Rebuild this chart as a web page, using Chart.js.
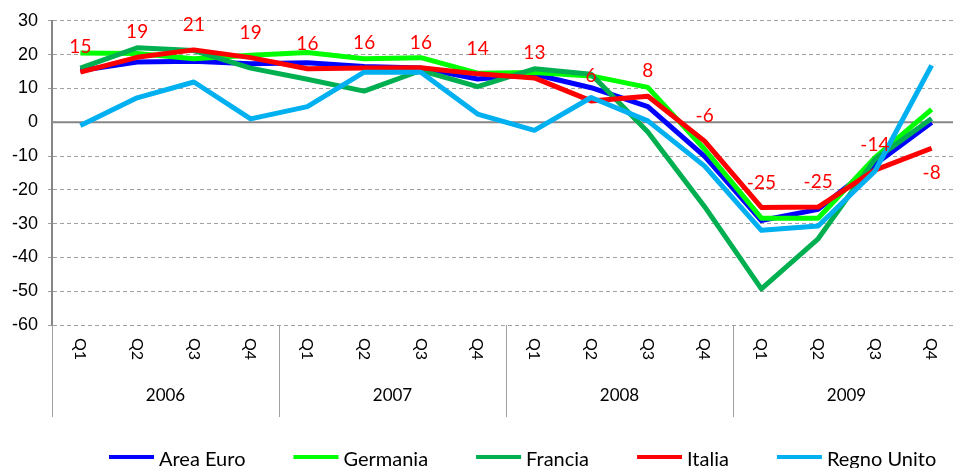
<!DOCTYPE html>
<html>
<head>
<meta charset="utf-8">
<title>Clima di fiducia</title>
<script src="https://cdn.jsdelivr.net/npm/chart.js@4.4.1/dist/chart.umd.min.js"></script>
<style>
    html, body { margin: 0; padding: 0; background: #ffffff; overflow: hidden; }
    #wrap { width: 961px; height: 468px; }
</style>
</head>
<body>
<div id="wrap"><canvas id="line-chart"></canvas></div>
<script>
    "use strict";

    // Data
    var years = ["2006", "2007", "2008", "2009"];
    var quarters = ["Q1", "Q2", "Q3", "Q4"];
    var seriesNames = ["Area Euro", "Germania", "Francia", "Italia", "Regno Unito"];
    var seriesColors = ["#0000FF", "#00FF00", "#00B050", "#FF0000", "#00B0F0"];

    var areaEuro   = [15.3, 17.8, 18.0, 17.3, 17.6, 16.5, 16.0, 12.8, 14.2, 10.2, 4.6, -10.1, -29.1, -25.8, -12.5, -0.1];
    var germania   = [20.5, 20.3, 18.8, 19.8, 20.6, 18.8, 19.1, 14.5, 14.7, 13.7, 10.3, -8.0, -28.4, -28.4, -10.5, 3.8];
    var francia    = [16.0, 22.0, 21.2, 16.0, 12.7, 9.2, 15.3, 10.5, 15.8, 14.2, -2.9, -25.0, -49.3, -34.5, -11.0, 1.1];
    var italia     = [14.8, 19.2, 21.4, 19.1, 15.8, 16.0, 16.1, 14.3, 13.1, 6.3, 7.7, -5.6, -25.2, -25.1, -14.2, -7.7];
    var regnoUnito = [-1.0, 7.2, 11.9, 1.0, 4.6, 14.8, 14.8, 2.4, -2.4, 7.3, 0.4, -13.0, -32.0, -30.7, -14.5, 16.8];

    var yMin = -60, yMax = 30, yStep = 10;

    var seriesValues = [areaEuro, germania, francia, italia, regnoUnito];
    var labelSeries = 3; // Italia carries the value labels

    var labels = [];
    years.forEach(function (y) {
        quarters.forEach(function (q) { labels.push(q + " " + y); });
    });

    var datasets = seriesNames.map(function (name, i) {
        return {
            label: name,
            data: seriesValues[i],
            borderColor: seriesColors[i],
            backgroundColor: seriesColors[i],
            borderWidth: 5,
            pointRadius: 0,
            tension: 0,
            borderJoinStyle: "round",
            order: seriesNames.length - i
        };
    });


    // Axis decorations, value labels and legend
    var decor = {
        id: "decor",
        beforeDatasetsDraw: function (chart) {
            var ctx = chart.ctx, area = chart.chartArea;
            var y0 = chart.scales.y.getPixelForValue(0);
            ctx.save();
            ctx.strokeStyle = "#868686";
            ctx.lineWidth = 2;
            ctx.beginPath();
            ctx.moveTo(area.left, y0);
            ctx.lineTo(area.right, y0);
            ctx.stroke();
            ctx.restore();
        },
        afterDraw: function (chart) {
            var ctx = chart.ctx, area = chart.chartArea;
            var xs = chart.scales.x;
            var step = (area.right - area.left) / labels.length;
            ctx.save();

            // year separators
            ctx.strokeStyle = "#A0A0A0";
            ctx.lineWidth = 1;
            for (var k = 0; k <= years.length; k++) {
                var sx = Math.round(area.left + k * quarters.length * step) + 0.5;
                ctx.beginPath();
                ctx.moveTo(sx, area.bottom);
                ctx.lineTo(sx, area.bottom + 92);
                ctx.stroke();
            }

            // quarter labels, rotated
            ctx.fillStyle = "#000000";
            ctx.font = "16px Lato";
            ctx.textAlign = "left";
            ctx.textBaseline = "middle";
            labels.forEach(function (l, i) {
                var px = xs.getPixelForValue(i);
                ctx.save();
                ctx.translate(px, area.bottom + 13);
                ctx.rotate(Math.PI / 2);
                ctx.fillText(quarters[i % quarters.length], 0, 0);
                ctx.restore();
            });

            // year labels
            ctx.font = "17px Lato";
            ctx.textAlign = "center";
            years.forEach(function (y, k) {
                var cx = area.left + (k + 0.5) * quarters.length * step;
                ctx.fillText(y, cx, area.bottom + 71);
            });

            // value labels on Italia
            var meta = chart.getDatasetMeta(labelSeries);
            ctx.font = "19px Lato";
            ctx.fillStyle = "#FF0000";
            meta.data.forEach(function (pt, i) {
                var v = Math.round(seriesValues[labelSeries][i]);
                var dy = (i === meta.data.length - 1) ? 25 : -25;
                ctx.fillText(String(v), pt.x, pt.y + dy);
            });

            // legend
            ctx.font = "20px Lato";
            ctx.textAlign = "left";
            ctx.textBaseline = "alphabetic";
            var lx = 109, ly = 457;
            chart.data.datasets.forEach(function (ds) {
                ctx.strokeStyle = ds.borderColor;
                ctx.lineWidth = 4;
                ctx.beginPath();
                ctx.moveTo(lx, ly);
                ctx.lineTo(lx + 45, ly);
                ctx.stroke();
                ctx.fillStyle = "#000000";
                ctx.fillText(ds.label, lx + 50, ly + 9);
                lx += 50 + ctx.measureText(ds.label).width + 48;
            });

            ctx.restore();
        }
    };


    // Line Chart
    var ctx1 = document.getElementById("line-chart").getContext("2d");
    var myChart1 = new Chart(ctx1, {
        type: "line",
        data: {
            labels: labels,
            datasets: datasets
        },
        options: {
            responsive: true,
            maintainAspectRatio: false,
            animation: false,
            layout: { padding: { top: 20, right: 1, left: 0, bottom: 0 } },
            plugins: {
                legend: { display: false },
                tooltip: { enabled: false }
            },
            scales: {
                x: {
                    offset: true,
                    grid: { display: false },
                    border: { display: false },
                    ticks: { display: false },
                    afterFit: function (scale) { scale.height = 143; }
                },
                y: {
                    min: yMin,
                    max: yMax,
                    ticks: {
                        stepSize: yStep,
                        padding: 10,
                        color: "#000000",
                        font: { family: "Liberation Sans", size: 18 }
                    },
                    grid: {
                        color: function (c) { return c.tick && c.tick.value === 0 ? "rgba(0,0,0,0)" : "#A0A0A0"; },
                        lineWidth: 1,
                        tickLength: 4
                    },
                    border: { display: true, color: "#868686", width: 2, dash: [4, 3] },
                    afterFit: function (scale) { scale.width = 52; }
                }
            }
        },
        plugins: [decor]
    });
</script>
</body>
</html>
